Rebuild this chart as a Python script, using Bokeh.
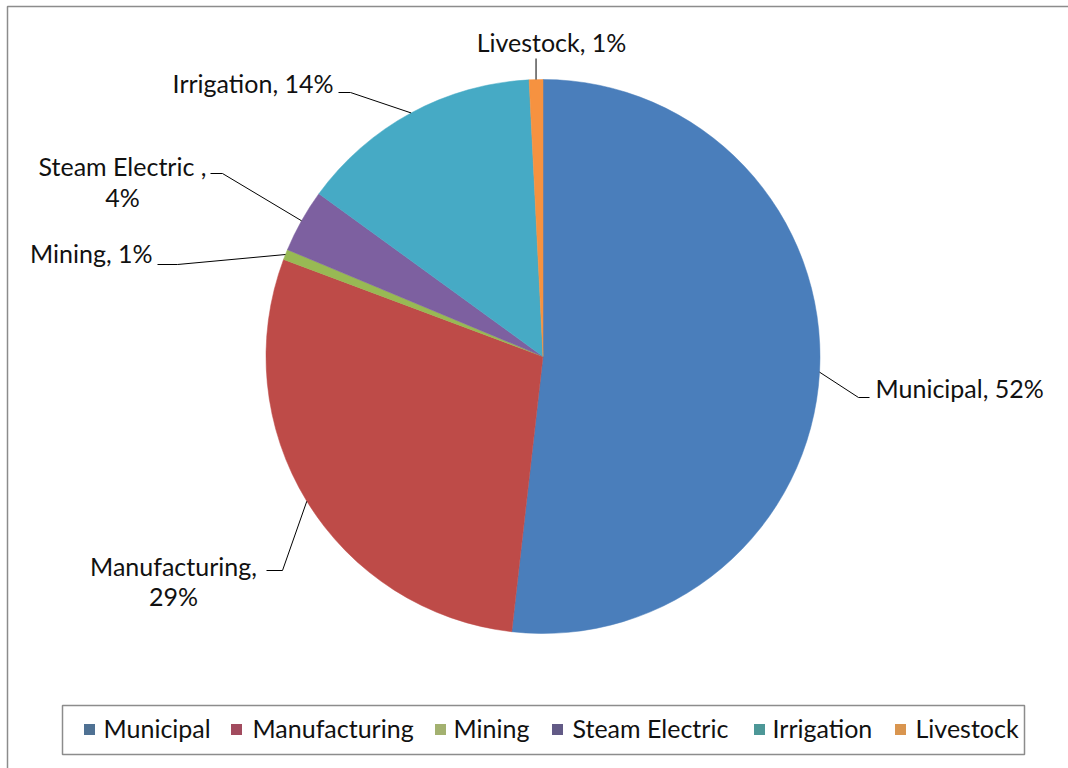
import math
from bokeh.plotting import figure
from bokeh.models import Range1d, ColumnDataSource
from bokeh.core.properties import value
from bokeh.embed import file_html
from bokeh.resources import INLINE

# ---- data ----
categories = ["Municipal", "Manufacturing", "Mining", "Steam Electric", "Irrigation", "Livestock"]
shares = [51.8, 28.9, 0.6, 3.7, 14.2, 0.8]
pct_labels = ["52%", "29%", "1%", "4%", "14%", "1%"]
colors = ["#4a7ebb", "#be4b48", "#98b954", "#7d60a0", "#46aac5", "#f69240"]
legend_colors = ["#4f7193", "#a24b5e", "#a3b170", "#625a86", "#4d9797", "#d9954f"]

# data-label text lines (category, percent) as they appear on the chart
label_lines = [
    ["Municipal, 52%"],
    ["Manufacturing,", "29%"],
    ["Mining, 1%"],
    ["Steam Electric ,", "4%"],
    ["Irrigation, 14%"],
    ["Livestock, 1%"],
]

# ---- layout (pixel coordinates, image y measured from top) ----
W, H = 1068, 768
CX, CY, R = 542.5, 356, 277
FONT = "Lato"
FS = "25px"
TXT_SHIFT = 10  # renderer places alphabetic baseline lower than measured

def fy(y):
    return H - y

def ft(y):
    return H - (y - TXT_SHIFT)

# label placement: list of (x, baseline_y, align) per line ; leader elbow & end points
label_pos = [
    [(875, 397, "left")],
    [(173, 575, "center"), (173, 605, "center")],
    [(152, 262, "right")],
    [(122, 175, "center"), (122, 206, "center")],
    [(333, 92, "right")],
    [(551, 51, "center")],
]
leader_pts = [
    [(858, 397), (869, 397)],
    [(282, 570), (266, 570)],
    [(177, 264), (157, 264)],
    [(222, 173), (210, 173)],
    [(350, 92), (338, 92)],
    [(None, 58)],
]

p = figure(width=W, height=H, min_border=0, x_range=Range1d(0, W), y_range=Range1d(0, H),
           x_axis_type=None, y_axis_type=None, toolbar_location=None, output_backend="svg",
           background_fill_color="white", border_fill_color="white")
p.grid.visible = False
p.outline_line_color = None

# outer chart border (top & left visible)
p.quad(left=7, right=W + 20, top=fy(6), bottom=-20, fill_color=None, line_color="#8c8c8c", line_width=1.5)

# pie wedges
total = sum(shares)
starts, ends, mids = [], [], []
cum = 0.0
for s in shares:
    a0 = math.pi / 2 - 2 * math.pi * cum / total
    cum += s
    a1 = math.pi / 2 - 2 * math.pi * cum / total
    starts.append(a0)
    ends.append(a1)
    mids.append((a0 + a1) / 2)

src = ColumnDataSource(dict(cat=categories, start=starts, end=ends, color=colors))
p.wedge(x=CX, y=fy(CY), radius=R, start_angle="start", end_angle="end", direction="clock",
        fill_color="color", line_color="color", line_width=0.5, source=src)

# leader lines
xs, ys = [], []
for m, pts in zip(mids, leader_pts):
    ex = CX + R * math.cos(m)
    ey = fy(CY) + R * math.sin(m)
    lx, ly = [ex], [ey]
    for (px, py) in pts:
        lx.append(ex if px is None else px)
        ly.append(fy(py))
    xs.append(lx)
    ys.append(ly)
p.multi_line(xs=xs, ys=ys, line_color="#000000", line_width=1)

# data labels
for lines, poss in zip(label_lines, label_pos):
    for t, (x, y, al) in zip(lines, poss):
        p.text(x=[x], y=[ft(y)], text=[t], text_font=value(FONT), text_font_size=FS,
               text_color="#111111", text_align=al, text_baseline="alphabetic")

# legend
p.quad(left=62, right=1024, top=fy(705), bottom=fy(754), fill_color="white",
       line_color="#8c8c8c", line_width=1.5)
sq_x = [89, 236, 440, 557, 759, 900]
tx_x = [103, 252, 453, 572, 772, 915]
p.rect(x=sq_x, y=[fy(729)] * 6, width=11, height=11, fill_color=legend_colors, line_color=None)
p.text(x=tx_x, y=[ft(737)] * 6, text=categories, text_font=value(FONT), text_font_size=FS,
       text_color="#111111", text_align="left", text_baseline="alphabetic")

open("out.html", "w").write(file_html(p, INLINE))
